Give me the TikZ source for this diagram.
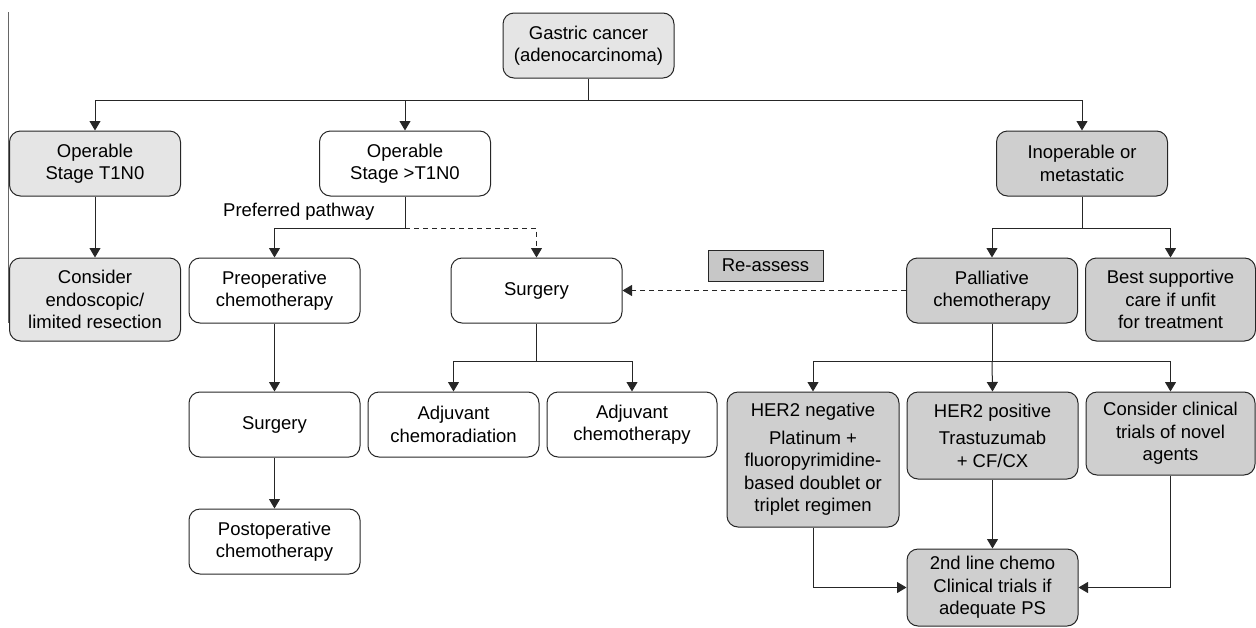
\documentclass[tikz,border=0pt]{standalone}
\usepackage{fontspec}
\setmainfont{Liberation Sans}
\usetikzlibrary{arrows.meta}
\begin{document}
\begin{tikzpicture}[x=1pt,y=-1pt,
  every node/.style={font=\fontsize{18.5}{22.5}\selectfont},
  box/.style={draw=black!85, line width=1pt, rounded corners=11pt, align=center, inner sep=2pt, minimum width=171pt, minimum height=65pt},
  light/.style={fill=black!10},
  dark/.style={fill=black!19},
  arr/.style={line width=1pt, draw=black!85, -{Triangle[length=9.5pt,width=11pt]}},
  ln/.style={line width=1pt, draw=black!85},
  dsh/.style={dash pattern=on 5pt off 4pt}]
\useasboundingbox (0,0) rectangle (1256,627);
% stray frame line at the left
\draw[line width=1pt, draw=black!60] (8.5,12) -- (8.5,323);
% nodes
\node[box,light] (g) at (588.5,45.5) {Gastric cancer\\(adenocarcinoma)};
\node[box,light] (t1) at (95,163.5) {Operable\\Stage T1N0};
\node[box] (gt) at (405,163.5) {Operable\\Stage >T1N0};
\node[box,dark] (inop) at (1082,163.5) {Inoperable or\\metastatic};
\node[box,light, minimum height=83pt] (endo) at (95,299.5) {Consider\\endoscopic/\\limited resection};
\node[box] (preop) at (274.5,290.5) {Preoperative\\chemotherapy};
\node[box] (surg) at (536.5,290.5) {Surgery};
\node[draw=black!85, line width=1pt, fill=black!22, minimum width=115pt, minimum height=31pt, inner sep=2pt] (re) at (765.5,265.5) {Re-assess};
\node[box,dark] (pall) at (992,290.5) {Palliative\\chemotherapy};
\node[box,dark, minimum width=170pt, minimum height=83pt] (best) at (1170.5,299.5) {Best supportive\\care if unfit\\for treatment};
\node[anchor=west, inner sep=0pt] (pp) at (223,212) {Preferred pathway};
\node[box] (surg2) at (274.5,424.5) {Surgery};
\node[box] (post) at (274.5,541.5) {Postoperative\\chemotherapy};
\node[box] (adj1) at (453.5,424.5) {Adjuvant\\chemoradiation};
\node[box, minimum width=170pt] (adj2) at (632,424.5) {Adjuvant\\chemotherapy};
\node[box,dark, minimum width=172pt, minimum height=135pt] (hn) at (813,459.5) {HER2 negative\\[5pt]Platinum +\\fluoropyrimidine-\\based doublet or\\triplet regimen};
\node[box,dark, minimum height=87pt] (hp) at (992.5,435.5) {HER2 positive\\[5pt]Trastuzumab\\+ CF/CX};
\node[box,dark, minimum width=169pt, minimum height=83pt] (clin) at (1170.5,433.5) {Consider clinical\\trials of novel\\agents};
\node[box,dark, minimum height=77pt] (sec) at (992.5,587.5) {2nd line chemo\\Clinical trials if\\adequate PS};
% bus coordinates
\coordinate (h1) at (588.5,100);
\coordinate (h2) at (0,228);
\coordinate (h3) at (0,361);
% connectors
\draw[ln] (g.south) -- (h1);
\draw[arr] (h1) -| (t1.north);
\draw[arr] (h1) -| (inop.north);
\draw[arr] (h1 -| gt.north) -- (gt.north);
\draw[arr] (t1.south) -- (endo.north);
\draw[ln] (gt.south) -- (gt.south |- h2);
\draw[arr] (gt.south |- h2) -| (preop.north);
\draw[arr,dsh] (gt.south |- h2) -| (surg.north);
\draw[ln] (inop.south) -- (inop.south |- h2);
\draw[arr] (inop.south |- h2) -| (pall.north);
\draw[arr] (inop.south |- h2) -| (best.north);
\draw[arr,dsh] (pall.west) -- (surg.east);
\draw[arr] (preop.south) -- (surg2.north);
\draw[arr] (surg2.south) -- (post.north);
\draw[ln] (surg.south) -- (surg.south |- h3);
\draw[arr] (surg.south |- h3) -| (adj1.north);
\draw[arr] (surg.south |- h3) -| (adj2.north);
\draw[ln] (pall.south) -- (pall.south |- h3);
\draw[arr] (pall.south |- h3) -| (hn.north);
\draw[arr] (pall.south |- h3) -- (hp.north);
\draw[arr] (pall.south |- h3) -| (clin.north);
\draw[arr] (hp.south) -- (sec.north);
\draw[arr] (hn.south) |- (sec.west);
\draw[arr] (clin.south) |- (sec.east);
\end{tikzpicture}
\end{document}
